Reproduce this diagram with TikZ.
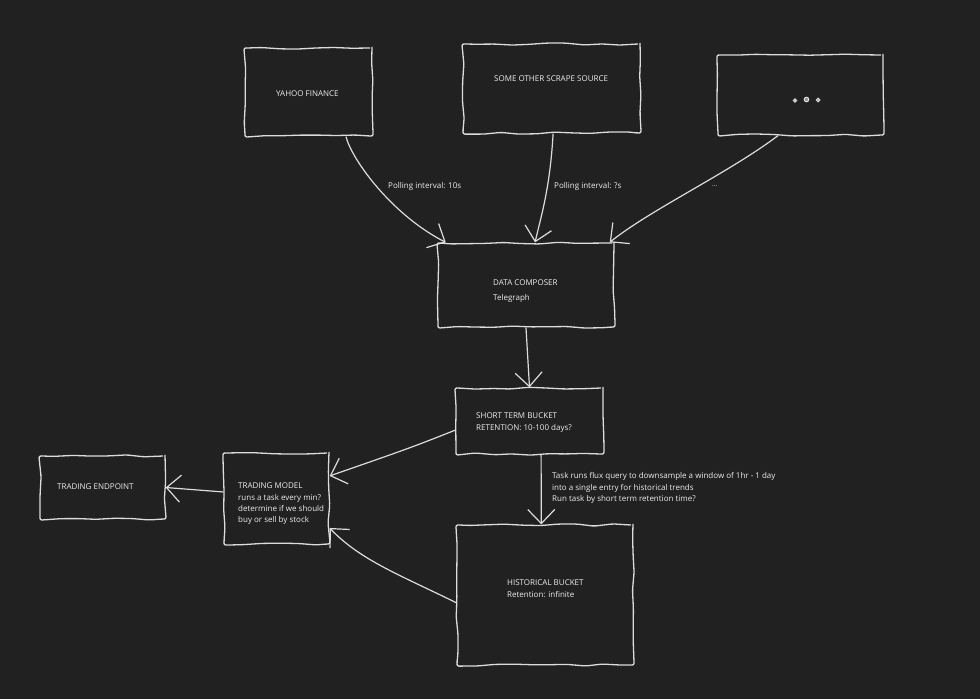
\documentclass[tikz,border=0pt]{standalone}
\usepackage{fontspec}
\setmainfont{Open Sans}
\usetikzlibrary{arrows.meta,decorations.pathmorphing,calc}
\definecolor{bgc}{HTML}{212121}
\definecolor{inkc}{HTML}{DCDCDC}
\definecolor{txtc}{HTML}{EDEDED}
\tikzset{
  box/.style={draw=inkc, line width=1.3pt, inner sep=0pt,
    decorate, decoration={random steps, segment length=18pt, amplitude=1.1pt},
    rounded corners=2pt},
  txt/.style={anchor=west, text=txtc, font=\fontsize{8}{11.3}\selectfont, inner sep=0pt, align=left},
  conn/.style={draw=inkc, line width=1.2pt, -{Straight Barb[length=14pt,width=27pt,line width=1.2pt]}}
}
\begin{document}
\begin{tikzpicture}[x=1pt,y=-1pt]
\pgfmathsetseed{7}
\fill[bgc] (0,0) rectangle (980,699);
\useasboundingbox (0,0) rectangle (980,699);

% boxes
\node[box, minimum width=127pt, minimum height=88pt] (yahoo) at (308.5,92) {};
\node[box, minimum width=177pt, minimum height=89pt] (other) at (551.5,88.5) {};
\node[box, minimum width=165pt, minimum height=80pt] (dots) at (800.5,95) {};
\node[box, minimum width=176pt, minimum height=84pt] (composer) at (526,285) {};
\node[box, minimum width=147pt, minimum height=66pt] (short) at (529.5,421) {};
\node[box, minimum width=125pt, minimum height=63pt] (endpoint) at (102.5,487.5) {};
\node[box, minimum width=105pt, minimum height=91pt] (model) at (276.5,498.5) {};
\node[box, minimum width=176pt, minimum height=140pt] (hist) at (545,595) {};

% texts
\node[txt] (tyahoo) at (276,94) {YAHOO FINANCE};
\node[txt] (tother) at (494,79) {SOME OTHER SCRAPE SOURCE};
\node[txt] (tcomp) at (493,291) {DATA COMPOSER\\[4pt]Telegraph};
\node[txt] (tshort) at (476,422.5) {SHORT TERM BUCKET\\RETENTION: 10-100 days?};
\node[txt] (tmodel) at (238,504) {TRADING MODEL\\runs a task every min?\\determine if we should\\buy or sell by stock};
\node[txt] (tend) at (57,486.5) {TRADING ENDPOINT};
\node[txt] (thist) at (507,588.5) {HISTORICAL BUCKET\\Retention: infinite};

% hand-drawn dots
\draw[inkc, line width=1pt, fill=inkc!60!bgc] (795,100.5) circle (1.6pt);
\draw[inkc, line width=1pt, fill=inkc!60!bgc] (806.5,99.5) circle (2.3pt);
\draw[inkc, line width=1pt, fill=inkc!60!bgc] (818,100) circle (1.8pt);

% connectors
\draw[conn] (yahoo.-50) .. controls (352,160) and (392,215) .. (composer.152);
\draw[conn] (other.-88) .. controls (550,190) and (540,220) .. (composer.78);
\draw[conn] (dots.-119) .. controls (730,172) and (650,210) .. (composer.27);
\draw[conn] (composer.south) -- (short.north);
\draw[conn] (short.187) .. controls (410,448) .. (model.23);
\draw[conn] (short.-71) -- (hist.93);
\draw[conn] (hist.185) .. controls (400,575) and (360,560) .. (model.-29);
\draw[conn] (model.173) -- (endpoint.east);

% connector labels
\node[txt] (l1) at (388,186) {Polling interval: 10s};
\node[txt] (l2) at (554,186) {Polling interval: ?s};
\node[txt, font=\fontsize{6.5}{7}\selectfont] (l3) at (712,186.5) {...};
\node[txt] (l4) at (552,488) {Task runs flux query to downsample a window of 1hr - 1 day\\into a single entry for historical trends\\Run task by short term retention time?};
\end{tikzpicture}
\end{document}
